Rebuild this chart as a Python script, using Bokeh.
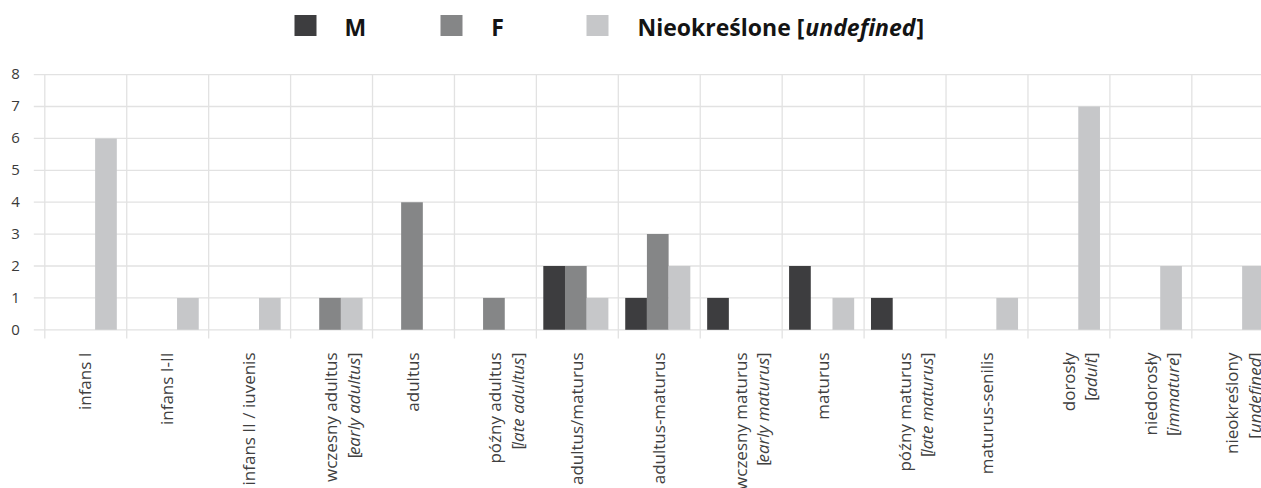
import math
from bokeh.plotting import figure
from bokeh.models import Range1d
from bokeh.core.properties import value
from bokeh.embed import file_html
from bokeh.resources import INLINE

# ---------------- data ----------------
categories = ["infans I", "infans I-II", "infans II / iuvenis", "wczesny adultus",
              "adultus", "późny adultus", "adultus/maturus", "adultus-maturus",
              "wczesny maturus", "maturus", "późny maturus", "maturus-senilis",
              "dorosły", "niedorosły", "nieokreślony"]
translations = ["", "", "", "early adultus", "", "late adultus", "", "",
                "early maturus", "", "late maturus", "", "adult", "immature", "undefined"]
male = [0, 0, 0, 0, 0, 0, 2, 1, 1, 2, 1, 0, 0, 0, 0]
female = [0, 0, 0, 1, 4, 1, 2, 3, 0, 0, 0, 0, 0, 0, 0]
undefined = [6, 1, 1, 1, 0, 0, 1, 2, 0, 1, 0, 1, 7, 2, 2]
y_ticks = [0, 1, 2, 3, 4, 5, 6, 7, 8]
series_names = ["M", "F", "Nieokreślone"]
series_note = "undefined"
colors = ["#3d3d3f", "#858687", "#c6c7c9"]

# ---------------- layout ----------------
W, H = 1261, 488
X0_PX = 44.3      # px of left edge of first category
CAT_PX = 81.93    # category width in px
Y0_PX = 329.3     # px of value 0
UNIT_PX = 31.9    # px per unit
BASE_FIX = 0.37   # em: compensation of svg alphabetic baseline

def px_x(px):
    return (px - X0_PX) / CAT_PX

def px_y(py):
    return (Y0_PX - py) / UNIT_PX

def dx(px):
    return px / CAT_PX

def dy(px):
    return px / UNIT_PX

# approximate advance widths (units / 2048)
REG = {' ': 532, 'a': 1139, 'b': 1255, 'c': 975, 'd': 1255, 'e': 1149, 'f': 694,
       'g': 1122, 'h': 1257, 'i': 518, 'j': 518, 'k': 1075, 'l': 518, 'm': 1905,
       'n': 1257, 'o': 1237, 'p': 1255, 'r': 836, 's': 977, 't': 723, 'u': 1257,
       'v': 1026, 'w': 1593, 'y': 1028, 'z': 977, '[': 608, ']': 608}
BOLD = {' ': 532, 'N': 1540, 'i': 590, 'e': 1198, 'o': 1255, 'k': 1245, 'r': 903,
        'ś': 1010, 'l': 590, 'n': 1300, '[': 698, ']': 698, 'u': 1300, 'd': 1300,
        'f': 776}

def tw(s, table, size, factor=1.0):
    return sum(table.get(c, 1100) for c in s) / 2048.0 * size * factor

p = figure(width=W, height=H, x_range=Range1d(px_x(0), px_x(W)),
           y_range=Range1d(px_y(H), px_y(0)), output_backend="svg",
           toolbar_location=None, x_axis_location=None, y_axis_location=None,
           min_border=0, title=None)
p.grid.visible = False
p.outline_line_color = None
p.background_fill_color = "white"
p.border_fill_color = "white"

FONT = value("Open Sans")
GRID = "#e2e2e2"

n = len(categories)
# horizontal gridlines
p.segment(x0=[px_x(33.3)] * len(y_ticks), x1=[n + 1] * len(y_ticks),
          y0=y_ticks, y1=y_ticks, line_color=GRID, line_width=1.3)
# category separators
p.segment(x0=list(range(n + 1)), x1=list(range(n + 1)),
          y0=[max(y_ticks)] * (n + 1), y1=[px_y(338)] * (n + 1),
          line_color=GRID, line_width=1.3)

# bars
BAR_W = 21.7 / CAT_PX
SHIFT = -1.5 / CAT_PX
for k, (vals, col) in enumerate(zip([male, female, undefined], colors)):
    xs = [i + 0.5 + SHIFT + (k - 1) * BAR_W for i in range(n)]
    p.vbar(x=xs, top=vals, bottom=0, width=BAR_W, fill_color=col, line_color=None)

# y tick labels
YSIZE = 15
p.text(x=[px_x(15)] * len(y_ticks),
       y=[t - dy(5.3) + dy(BASE_FIX * YSIZE) for t in y_ticks],
       text=[str(t) for t in y_ticks], text_font=FONT, text_font_size=f"{YSIZE}px",
       text_color="#3a3a3a", text_align="center", text_baseline="alphabetic")

# x labels (rotated)
LSIZE = 17
top_y = px_y(352)
ang = math.pi / 2
shift_x = -dx(BASE_FIX * LSIZE)
x1 = [i + 0.5 + dx(5.5) + shift_x for i in range(n)]
p.text(x=x1, y=[top_y] * n, text=categories,
       angle=ang, text_font=FONT, text_font_size=f"{LSIZE}px", text_color="#404040",
       text_align="right", text_baseline="alphabetic")
cx, cy, ct, ix, iy, it, ox, oy = [], [], [], [], [], [], [], []
for i, tr in enumerate(translations):
    if not tr:
        continue
    x2 = i + 0.5 + dx(28) + shift_x
    w_close = tw("]", REG, LSIZE)
    w_it = tw(tr, REG, LSIZE, 0.93)
    cx.append(x2); cy.append(top_y); ct.append("]")
    ix.append(x2); iy.append(top_y - dy(w_close)); it.append(tr)
    ox.append(x2); oy.append(top_y - dy(w_close + w_it))
p.text(x=cx, y=cy, text=ct, angle=ang, text_font=FONT, text_font_size=f"{LSIZE}px",
       text_color="#404040", text_align="right", text_baseline="alphabetic")
p.text(x=ix, y=iy, text=it, angle=ang, text_font=FONT, text_font_size=f"{LSIZE}px",
       text_font_style="italic", text_color="#404040", text_align="right",
       text_baseline="alphabetic")
p.text(x=ox, y=oy, text=["["] * len(ox), angle=ang, text_font=FONT,
       text_font_size=f"{LSIZE}px", text_color="#404040", text_align="right",
       text_baseline="alphabetic")

# legend
LEG = 23
sq_left = [294, 440, 586]
txt_left = [344, 490.7, 637]
p.rect(x=[px_x(s + 11) for s in sq_left], y=[px_y(25)] * 3, width=22, height=21,
       width_units="screen", height_units="screen", fill_color=colors, line_color=None)
leg_y = px_y(35) + dy(BASE_FIX * LEG)
p.text(x=[px_x(t) for t in txt_left], y=[leg_y] * 3,
       text=[series_names[0], series_names[1], series_names[2] + " ["],
       text_font=FONT, text_font_size=f"{LEG}px", text_font_style="bold",
       text_color="#141414", text_align="left", text_baseline="alphabetic")
w1 = tw(series_names[2] + " [", BOLD, LEG, 1.03)
w2 = tw(series_note, BOLD, LEG, 0.965)
p.text(x=[px_x(txt_left[2] + w1)], y=[leg_y], text=[series_note], text_font=FONT,
       text_font_size=f"{LEG}px", text_font_style="bold italic", text_color="#141414",
       text_align="left", text_baseline="alphabetic")
p.text(x=[px_x(txt_left[2] + w1 + w2)], y=[leg_y], text=["]"], text_font=FONT,
       text_font_size=f"{LEG}px", text_font_style="bold", text_color="#141414",
       text_align="left", text_baseline="alphabetic")

open("out.html", "w").write(file_html(p, INLINE))
